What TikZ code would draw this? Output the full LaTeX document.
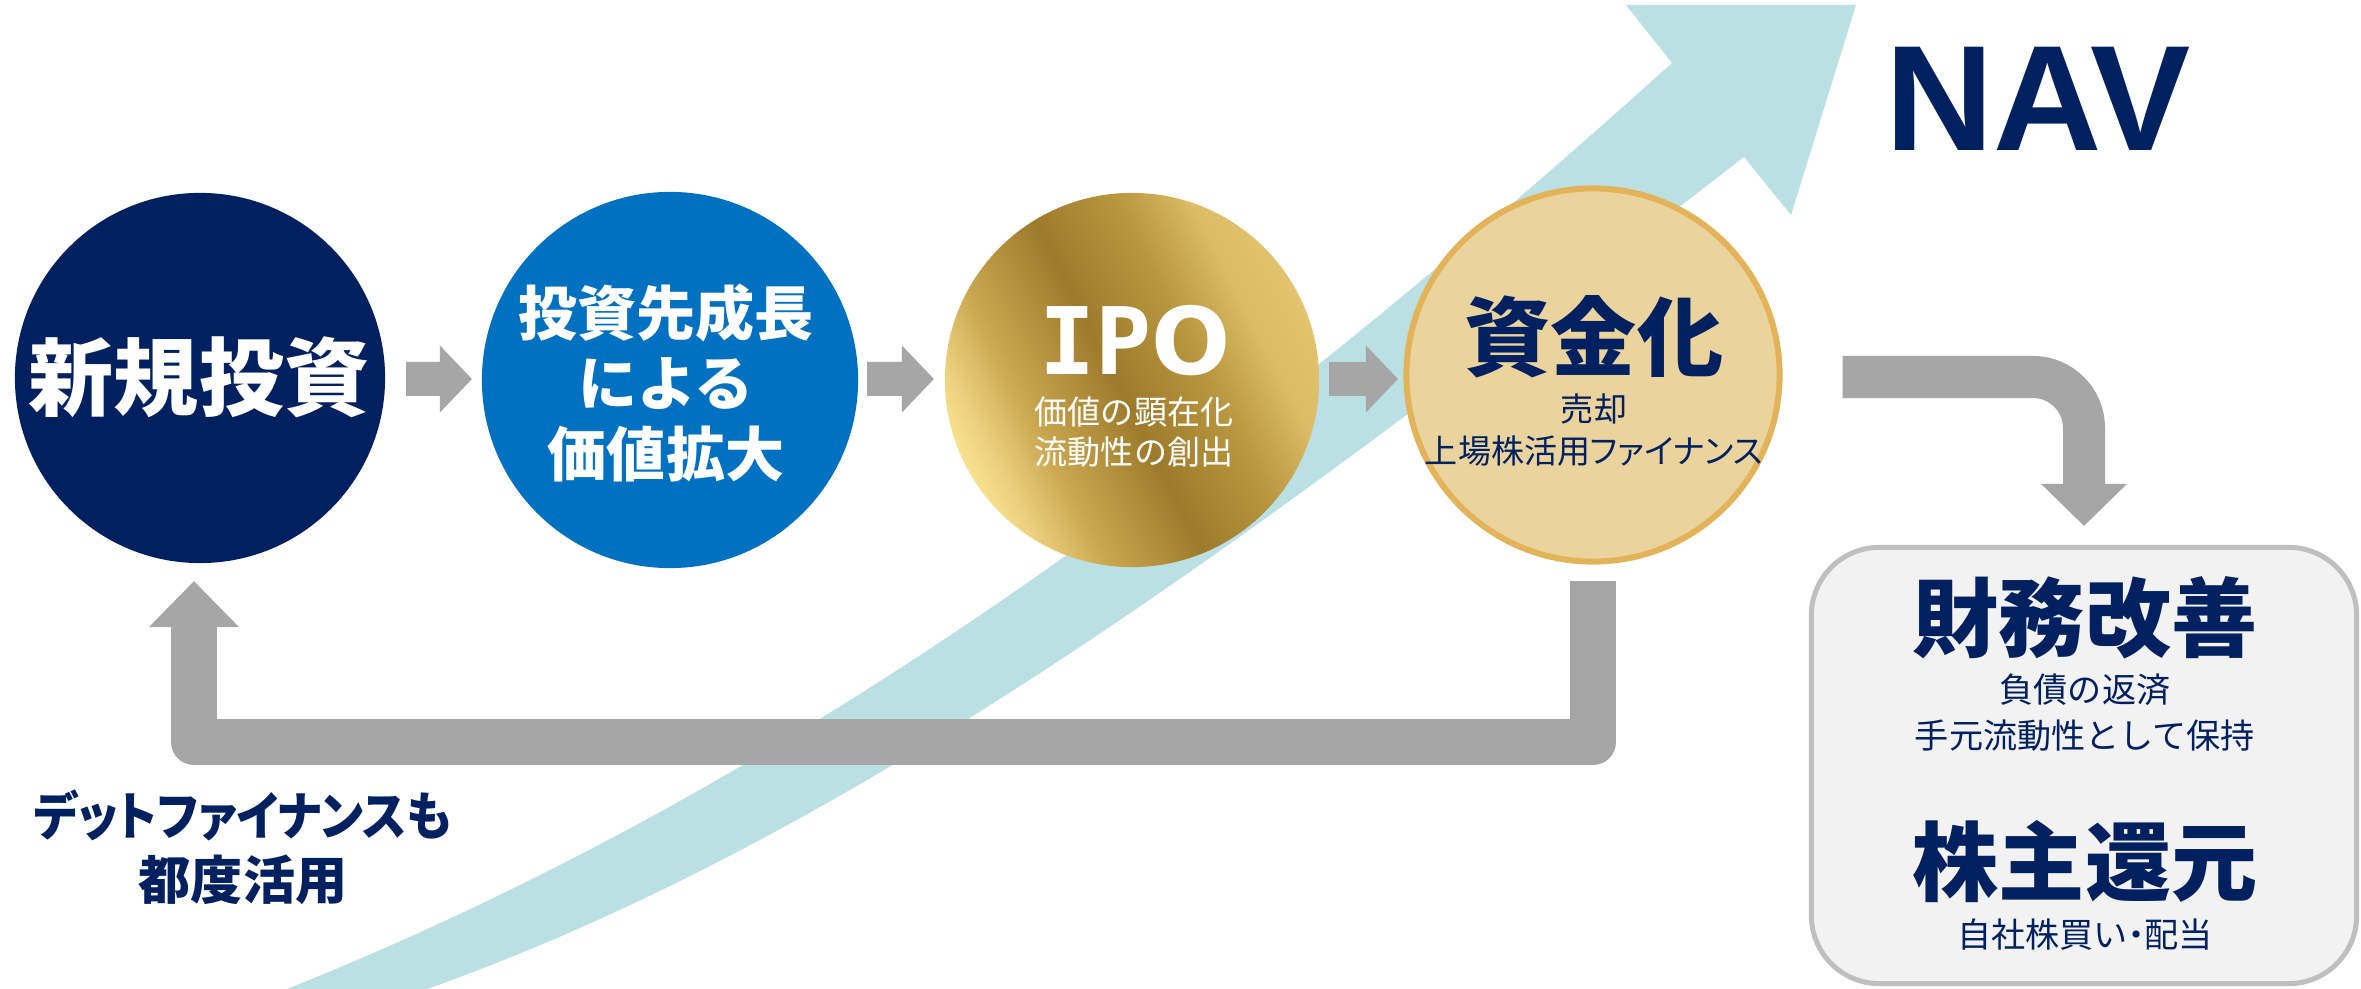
\documentclass[tikz,border=0pt]{standalone}
\usepackage{fontspec}
\usepackage{graphicx}
\setmainfont{Noto Sans CJK JP}
\newfontfamily\jpp{Noto Sans CJK JP}[RawFeature=+palt]
\newfontfamily\latinb{Liberation Sans}
\newfontfamily\monob{DejaVu Sans Mono}
\newfontfamily\dejab{DejaVu Sans}
\usetikzlibrary{calc}

\definecolor{navy}{HTML}{002060}
\definecolor{mblue}{HTML}{0070C0}
\definecolor{agray}{HTML}{A6A6A6}
\definecolor{bandc}{HTML}{BBE0E3}
\definecolor{goldL}{HTML}{F8E28F}
\definecolor{goldA}{HTML}{EBCF7C}
\definecolor{goldM}{HTML}{C9A650}
\definecolor{goldD}{HTML}{9E7B2B}
\definecolor{goldN}{HTML}{B8953F}
\definecolor{goldQ}{HTML}{DCBC66}
\definecolor{goldR}{HTML}{E2C36E}
\definecolor{beige}{HTML}{EAD39C}
\definecolor{beigeB}{HTML}{E3B35A}
\definecolor{boxF}{HTML}{F2F2F2}
\definecolor{boxB}{HTML}{BFBFBF}

\pgfdeclarehorizontalshading{goldsh}{100bp}{color(0bp)=(goldL); color(25bp)=(goldL); color(29bp)=(goldA); color(36bp)=(goldM); color(48bp)=(goldD); color(59bp)=(goldN); color(68bp)=(goldQ); color(75bp)=(goldR); color(100bp)=(goldR)}

\newcommand\harrow[2]{\fill[agray] ($(#1)+(0,-17)$) -- ($(#2)+(-32,-17)$) -- ($(#2)+(-32,-33.5)$) -- (#2) -- ($(#2)+(-32,33.5)$) -- ($(#2)+(-32,17)$) -- ($(#1)+(0,17)$) -- cycle;}

\tikzset{
  disc/.style={circle, inner sep=0pt, outer sep=0pt, minimum size=#1},
  bigw/.style={text=white, font=\bfseries\fontsize{24.2pt}{29pt}\selectfont},
  bign/.style={text=navy, font=\bfseries\fontsize{24.5pt}{29pt}\selectfont},
  smalln/.style={text=navy, align=center, font=\fontsize{9.7pt}{13.1pt}\selectfont},
}

\begin{document}
\begin{tikzpicture}[x=0.01cm, y=-0.01cm]
\useasboundingbox (0,0) rectangle (2361,989);
\fill[white] (0,0) rectangle (2361,989);

% rising light-blue arrow
\begin{scope}
\clip (0,0) rectangle (2361,989);
\fill[bandc] (262,1000) -- (287,989) .. controls (787,789) and (1222,468) .. (1672,63)
  -- (1626,5) -- (1856,5) -- (1791,215) -- (1744,157)
  .. controls (1300,500) and (877,829) .. (427,989) -- (400,1000) -- cycle;
\end{scope}

% circles
\node[disc=3.70cm, fill=navy] (c1) at (200,378) {};
\node[disc=3.76cm, fill=mblue] (c2) at (670,380) {};
\node[disc=3.74cm, shading=goldsh, shading angle=27] (c3) at (1132,380) {};
\node[disc=3.73cm, fill=beige, draw=beigeB, line width=0.06cm] (c4) at (1593,375) {};

% result box
\node[draw=boxB, fill=boxF, line width=0.05cm, rounded corners=0.68cm,
      minimum width=5.45cm, minimum height=4.36cm, inner sep=0pt] (box) at (2084,765.5) {};

% small arrows between circles
\coordinate (a1s) at ($(c1.east)+(21,1)$);
\coordinate (a1t) at ($(c2.west)+(-10,-1)$);
\coordinate (a2s) at ($(c2.east)+(9,-1)$);
\coordinate (a2t) at ($(c3.west)+(-11,-1)$);
\coordinate (a3s) at ($(c3.east)+(10,-1)$);
\coordinate (a3t) at ($(c4.west)+(-8.5,4)$);
\harrow{a1s}{a1t}
\harrow{a2s}{a2t}
\harrow{a3s}{a3t}

% loop arrow back to new investment
\coordinate (L4) at ($(c4.south)+(0,19.5)$);
\coordinate (L1) at ($(c1.south)+(-6,18)$);
\draw[agray, line width=0.46cm, line join=round] (L4) -- ($(L4)+(0,161)$) -| ($(L1)+(0,45)$);
\fill[agray] ($(L1)+(-45,46)$) -- (L1) -- ($(L1)+(45,46)$) -- cycle;

% curved arrow to box
\coordinate (R0) at ($(c4.east)+(63,2)$);
\coordinate (R1) at ($(box.north)+(0,-19)$);
\draw[agray, line width=0.42cm, rounded corners=0.51cm] (R0) -| ($(R1)+(0,-41)$);
\fill[agray] ($(R1)+(-43,-42)$) -- (R1) -- ($(R1)+(43,-42)$) -- cycle;

% texts
\node[bigw] (t1) at (199,377) {新規投資};
\node[text=white, align=center, font=\bfseries\fontsize{16.8pt}{20.06pt}\selectfont] (t2) at (666,383) {投資先成長\\による\\価値拡大};
\node[text=white, font=\bfseries\fontsize{26.5pt}{30pt}\selectfont] (t3) at (1135,341) {{\monob\bfseries IP}{\dejab\bfseries O}};
\node[text=white, align=center, font=\fontsize{9.4pt}{11.4pt}\selectfont] (t3b) at (1134,432) {価値の顕在化\\流動性の創出};
\node[bign] (t4) at (1594,337) {資金化};
\node[text=navy, align=center, font=\fontsize{9.4pt}{12pt}\selectfont] (t4b) at (1594,430) {売却\\{\jpp 上場株活用ファイナンス}};
\node[text=navy, font=\latinb\bfseries\fontsize{42.7pt}{50pt}\selectfont] (nav) at (2038,98.5) {NAV};
\node[bign] (t5) at (2085,618) {財務改善};
\node[smalln] (t5b) at (2085,713) {負債の返済\\手元流動性として保持};
\node[bign] (t6) at (2085,862) {株主還元};
\node[smalln] (t6b) at (2085,935) {自社株買い{\jpp ・}配当};
\node[text=navy, align=center, font=\bfseries\fontsize{14.8pt}{18.2pt}\selectfont] (debt) at (243,847) {\scalebox{0.9}[1]{\jpp\bfseries デットファイナンスも}\\都度活用};
\end{tikzpicture}
\end{document}
